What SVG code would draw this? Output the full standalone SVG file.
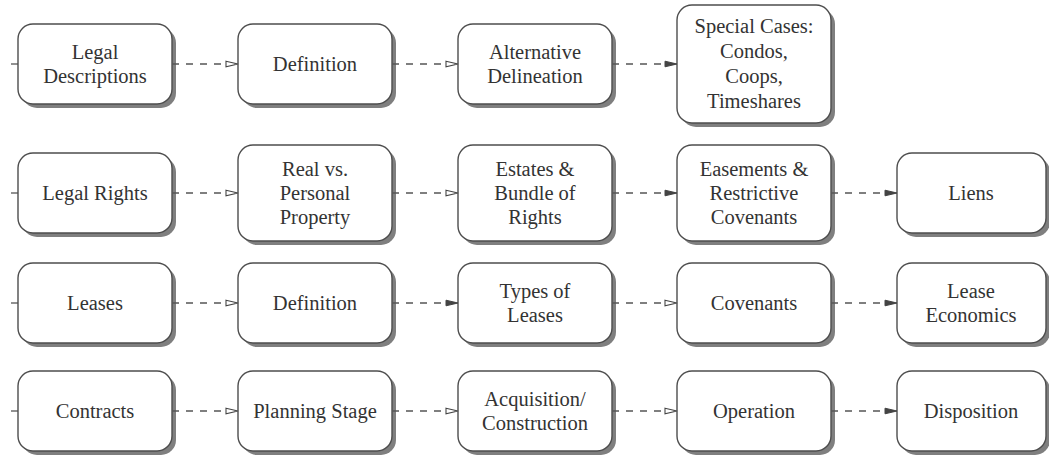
<svg xmlns="http://www.w3.org/2000/svg" width="1049" height="455" viewBox="0 0 1049 455">
  <style>
    .shadow { fill: #7f7f7f; }
    .box { fill: #ffffff; stroke: #4d4d4d; stroke-width: 1.4; }
    text { font-family: "Liberation Serif", "Tinos", "Times New Roman", Times, "Noto Serif", "DejaVu Serif", "FreeSerif", serif; font-size: 20.5px; fill: #333333; text-anchor: middle; }
    .edge { stroke: #555555; stroke-width: 1.3; stroke-dasharray: 7 7; fill: none; }
    .stub { stroke: #555555; stroke-width: 1.3; }
  </style>
  <defs>
    <marker id="open" viewBox="0 0 14 8" refX="13" refY="4" markerWidth="14" markerHeight="8" markerUnits="userSpaceOnUse" orient="auto">
      <path d="M1,1.2 L13,4 L1,6.8 Z" fill="#ffffff" stroke="#444444" stroke-width="1.1"/>
    </marker>
    <marker id="solid" viewBox="0 0 14 8" refX="13" refY="4" markerWidth="14" markerHeight="8" markerUnits="userSpaceOnUse" orient="auto">
      <path d="M1,1.2 L13,4 L1,6.8 Z" fill="#444444" stroke="#444444" stroke-width="1"/>
    </marker>
  </defs>

  <!-- lead-in stubs at the left of each row -->
  <g id="stubs">
    <line class="stub" x1="11" y1="64" x2="18" y2="64"/>
    <line class="stub" x1="11" y1="193" x2="18" y2="193"/>
    <line class="stub" x1="11" y1="303" x2="18" y2="303"/>
    <line class="stub" x1="11" y1="411" x2="18" y2="411"/>
  </g>

  <!-- row 1 -->
  <g id="legal-descriptions">
    <rect class="shadow" x="22" y="28" width="154" height="80" rx="15"/>
    <rect class="box" x="18" y="24" width="154" height="80" rx="15"/>
    <text x="95" y="59">Legal</text>
    <text x="95" y="83">Descriptions</text>
  </g>
  <g id="definition-1">
    <rect class="shadow" x="242" y="28" width="154" height="80" rx="15"/>
    <rect class="box" x="238" y="24" width="154" height="80" rx="15"/>
    <text x="315" y="71">Definition</text>
  </g>
  <g id="alternative-delineation">
    <rect class="shadow" x="462" y="28" width="154" height="80" rx="15"/>
    <rect class="box" x="458" y="24" width="154" height="80" rx="15"/>
    <text x="535" y="59">Alternative</text>
    <text x="535" y="83">Delineation</text>
  </g>
  <g id="special-cases">
    <rect class="shadow" x="681" y="9" width="154" height="118" rx="15"/>
    <rect class="box" x="677" y="5" width="154" height="118" rx="15"/>
    <text x="754" y="33">Special Cases:</text>
    <text x="754" y="58">Condos,</text>
    <text x="754" y="83">Coops,</text>
    <text x="754" y="108">Timeshares</text>
  </g>

  <!-- row 2 -->
  <g id="legal-rights">
    <rect class="shadow" x="22" y="157" width="154" height="80" rx="15"/>
    <rect class="box" x="18" y="153" width="154" height="80" rx="15"/>
    <text x="95" y="200">Legal Rights</text>
  </g>
  <g id="real-vs-personal">
    <rect class="shadow" x="242" y="149" width="154" height="96" rx="15"/>
    <rect class="box" x="238" y="145" width="154" height="96" rx="15"/>
    <text x="315" y="176">Real vs.</text>
    <text x="315" y="200">Personal</text>
    <text x="315" y="224">Property</text>
  </g>
  <g id="estates-bundle">
    <rect class="shadow" x="462" y="149" width="154" height="96" rx="15"/>
    <rect class="box" x="458" y="145" width="154" height="96" rx="15"/>
    <text x="535" y="176">Estates &amp;</text>
    <text x="535" y="200">Bundle of</text>
    <text x="535" y="224">Rights</text>
  </g>
  <g id="easements">
    <rect class="shadow" x="681" y="149" width="154" height="96" rx="15"/>
    <rect class="box" x="677" y="145" width="154" height="96" rx="15"/>
    <text x="754" y="176">Easements &amp;</text>
    <text x="754" y="200">Restrictive</text>
    <text x="754" y="224">Covenants</text>
  </g>
  <g id="liens">
    <rect class="shadow" x="901" y="157" width="149" height="80" rx="15"/>
    <rect class="box" x="897" y="153" width="149" height="80" rx="15"/>
    <text x="971" y="200">Liens</text>
  </g>

  <!-- row 3 -->
  <g id="leases">
    <rect class="shadow" x="22" y="267" width="154" height="80" rx="15"/>
    <rect class="box" x="18" y="263" width="154" height="80" rx="15"/>
    <text x="95" y="310">Leases</text>
  </g>
  <g id="definition-2">
    <rect class="shadow" x="242" y="267" width="154" height="80" rx="15"/>
    <rect class="box" x="238" y="263" width="154" height="80" rx="15"/>
    <text x="315" y="310">Definition</text>
  </g>
  <g id="types-of-leases">
    <rect class="shadow" x="462" y="267" width="154" height="80" rx="15"/>
    <rect class="box" x="458" y="263" width="154" height="80" rx="15"/>
    <text x="535" y="298">Types of</text>
    <text x="535" y="322">Leases</text>
  </g>
  <g id="covenants">
    <rect class="shadow" x="681" y="267" width="154" height="80" rx="15"/>
    <rect class="box" x="677" y="263" width="154" height="80" rx="15"/>
    <text x="754" y="310">Covenants</text>
  </g>
  <g id="lease-economics">
    <rect class="shadow" x="901" y="267" width="149" height="80" rx="15"/>
    <rect class="box" x="897" y="263" width="149" height="80" rx="15"/>
    <text x="971" y="298">Lease</text>
    <text x="971" y="322">Economics</text>
  </g>

  <!-- row 4 -->
  <g id="contracts">
    <rect class="shadow" x="22" y="375" width="154" height="80" rx="15"/>
    <rect class="box" x="18" y="371" width="154" height="80" rx="15"/>
    <text x="95" y="418">Contracts</text>
  </g>
  <g id="planning-stage">
    <rect class="shadow" x="242" y="375" width="154" height="80" rx="15"/>
    <rect class="box" x="238" y="371" width="154" height="80" rx="15"/>
    <text x="315" y="418">Planning Stage</text>
  </g>
  <g id="acquisition">
    <rect class="shadow" x="462" y="375" width="154" height="80" rx="15"/>
    <rect class="box" x="458" y="371" width="154" height="80" rx="15"/>
    <text x="535" y="406">Acquisition/</text>
    <text x="535" y="430">Construction</text>
  </g>
  <g id="operation">
    <rect class="shadow" x="681" y="375" width="154" height="80" rx="15"/>
    <rect class="box" x="677" y="371" width="154" height="80" rx="15"/>
    <text x="754" y="418">Operation</text>
  </g>
  <g id="disposition">
    <rect class="shadow" x="901" y="375" width="149" height="80" rx="15"/>
    <rect class="box" x="897" y="371" width="149" height="80" rx="15"/>
    <text x="971" y="418">Disposition</text>
  </g>

  <!-- connectors -->
  <g id="connectors">
    <line class="edge" x1="172" y1="64" x2="238" y2="64" marker-end="url(#open)"/>
    <line class="edge" x1="392" y1="64" x2="458" y2="64" marker-end="url(#open)"/>
    <line class="edge" x1="612" y1="64" x2="677" y2="64" marker-end="url(#solid)"/>

    <line class="edge" x1="172" y1="193" x2="238" y2="193" marker-end="url(#open)"/>
    <line class="edge" x1="392" y1="193" x2="458" y2="193" marker-end="url(#open)"/>
    <line class="edge" x1="612" y1="193" x2="677" y2="193" marker-end="url(#solid)"/>
    <line class="edge" x1="831" y1="193" x2="897" y2="193" marker-end="url(#solid)"/>

    <line class="edge" x1="172" y1="303" x2="238" y2="303" marker-end="url(#open)"/>
    <line class="edge" x1="392" y1="303" x2="458" y2="303" marker-end="url(#solid)"/>
    <line class="edge" x1="612" y1="303" x2="677" y2="303" marker-end="url(#open)"/>
    <line class="edge" x1="831" y1="303" x2="897" y2="303" marker-end="url(#solid)"/>

    <line class="edge" x1="172" y1="411" x2="238" y2="411" marker-end="url(#open)"/>
    <line class="edge" x1="392" y1="411" x2="458" y2="411" marker-end="url(#open)"/>
    <line class="edge" x1="612" y1="411" x2="677" y2="411" marker-end="url(#open)"/>
    <line class="edge" x1="831" y1="411" x2="897" y2="411" marker-end="url(#solid)"/>
  </g>
</svg>
